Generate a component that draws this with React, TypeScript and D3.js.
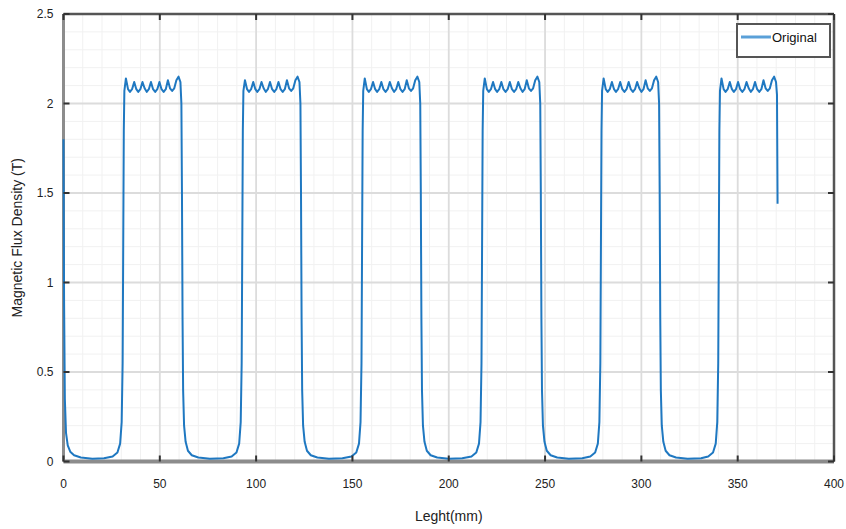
import React from "react";
import * as d3 from "d3";

type Pt = [number, number];

// Curve: [length (mm), flux density (T)]
const startDecay: Pt[] = [
  [0, 1.8], [0.3, 0.9], [0.7, 0.35], [1.3, 0.16], [2.2, 0.09], [3.5, 0.055], [5.5, 0.035], [9, 0.022], [15, 0.016], [21, 0.018],
];
const pulse1: Pt[] = [
  [25.5, 0.028], [28, 0.05], [29.4, 0.1], [30.2, 0.22], [30.7, 0.55], [31.0, 1.2], [31.3, 1.85], [31.6, 2.07],
  [32.4, 2.14], [33.5, 2.08], [34.5, 2.065], [35.6, 2.08], [36.7, 2.12], [37.8, 2.08], [38.8, 2.065], [39.9, 2.08], [41.0, 2.12], [42.1, 2.085],
  [43.2, 2.065], [44.3, 2.08], [45.4, 2.12], [46.5, 2.08], [47.6, 2.065], [48.7, 2.08], [49.8, 2.12], [50.9, 2.08], [52.0, 2.065], [53.1, 2.08],
  [54.2, 2.13], [55.3, 2.085], [56.4, 2.07], [57.5, 2.085], [58.6, 2.13], [59.7, 2.15], [60.7, 2.12], [61.2, 2.0],
  [61.5, 1.5], [61.8, 0.8], [62.1, 0.4], [62.6, 0.2], [63.4, 0.11], [64.6, 0.06], [66.6, 0.035], [70, 0.022], [76, 0.016], [83, 0.018],
];
const pulse2: Pt[] = [
  [87.3, 0.028], [89.8, 0.05], [91.2, 0.1], [92.0, 0.22], [92.5, 0.55], [92.8, 1.2], [93.1, 1.85], [93.4, 2.07],
  [94.2, 2.13], [95.3, 2.08], [96.3, 2.065], [97.4, 2.08], [98.5, 2.12], [99.6, 2.08], [100.6, 2.065], [101.7, 2.08], [102.8, 2.12], [103.9, 2.085],
  [105.0, 2.065], [106.1, 2.08], [107.2, 2.12], [108.3, 2.08], [109.4, 2.065], [110.5, 2.08], [111.6, 2.12], [112.7, 2.08], [113.8, 2.065], [114.9, 2.08],
  [116.0, 2.13], [117.1, 2.085], [118.2, 2.07], [119.3, 2.085], [120.4, 2.13], [121.5, 2.15], [122.5, 2.12], [123.0, 2.0],
  [123.3, 1.5], [123.6, 0.8], [123.9, 0.4], [124.4, 0.2], [125.2, 0.11], [126.4, 0.06], [128.4, 0.035], [131.8, 0.022], [137.8, 0.016], [144.8, 0.018],
];
const pulse3: Pt[] = [
  [149.5, 0.028], [152.0, 0.05], [153.4, 0.1], [154.2, 0.22], [154.7, 0.55], [155.0, 1.2], [155.3, 1.85], [155.6, 2.07],
  [156.4, 2.14], [157.5, 2.08], [158.5, 2.065], [159.6, 2.08], [160.7, 2.12], [161.8, 2.08], [162.8, 2.065], [163.9, 2.08], [165.0, 2.12], [166.1, 2.08],
  [167.2, 2.065], [168.3, 2.08], [169.4, 2.12], [170.5, 2.085], [171.6, 2.065], [172.7, 2.08], [173.8, 2.12], [174.9, 2.08], [176.0, 2.065], [177.1, 2.08],
  [178.2, 2.13], [179.3, 2.085], [180.4, 2.07], [181.5, 2.085], [182.6, 2.13], [183.7, 2.15], [184.7, 2.12], [185.2, 2.0],
  [185.5, 1.5], [185.8, 0.8], [186.1, 0.4], [186.6, 0.2], [187.4, 0.11], [188.6, 0.06], [190.6, 0.035], [194, 0.022], [200, 0.016], [207, 0.018],
];
const pulse4: Pt[] = [
  [211.8, 0.028], [214.3, 0.05], [215.7, 0.1], [216.5, 0.22], [217.0, 0.55], [217.3, 1.2], [217.6, 1.85], [217.9, 2.07],
  [218.7, 2.14], [219.8, 2.08], [220.8, 2.065], [221.9, 2.08], [223.0, 2.12], [224.1, 2.08], [225.1, 2.065], [226.2, 2.08], [227.3, 2.12], [228.4, 2.08],
  [229.5, 2.065], [230.6, 2.08], [231.7, 2.12], [232.8, 2.08], [233.9, 2.065], [235.0, 2.08], [236.1, 2.12], [237.2, 2.085], [238.3, 2.065], [239.4, 2.08],
  [240.5, 2.13], [241.6, 2.085], [242.7, 2.07], [243.8, 2.085], [244.9, 2.13], [246.0, 2.15], [247.0, 2.12], [247.5, 2.0],
  [247.8, 1.5], [248.1, 0.8], [248.4, 0.4], [248.9, 0.2], [249.7, 0.11], [250.9, 0.06], [252.9, 0.035], [256.3, 0.022], [262.3, 0.016], [269.3, 0.018],
];
const pulse5: Pt[] = [
  [273.5, 0.028], [276.0, 0.05], [277.4, 0.1], [278.2, 0.22], [278.7, 0.55], [279.0, 1.2], [279.3, 1.85], [279.6, 2.07],
  [280.4, 2.14], [281.5, 2.08], [282.5, 2.065], [283.6, 2.08], [284.7, 2.12], [285.8, 2.08], [286.8, 2.065], [287.9, 2.08], [289.0, 2.12], [290.1, 2.08],
  [291.2, 2.065], [292.3, 2.08], [293.4, 2.12], [294.5, 2.08], [295.6, 2.065], [296.7, 2.08], [297.8, 2.12], [298.9, 2.085], [300.0, 2.065], [301.1, 2.08],
  [302.2, 2.13], [303.3, 2.085], [304.4, 2.07], [305.5, 2.085], [306.6, 2.13], [307.7, 2.15], [308.7, 2.12], [309.2, 2.0],
  [309.5, 1.5], [309.8, 0.8], [310.1, 0.4], [310.6, 0.2], [311.4, 0.11], [312.6, 0.06], [314.6, 0.035], [318, 0.022], [324, 0.016], [331, 0.018],
];
const pulse6: Pt[] = [
  [334.7, 0.028], [337.2, 0.05], [338.6, 0.1], [339.4, 0.22], [339.9, 0.55], [340.2, 1.2], [340.5, 1.85], [340.8, 2.07],
  [341.6, 2.14], [342.7, 2.08], [343.7, 2.065], [344.8, 2.08], [345.9, 2.12], [347.0, 2.08], [348.0, 2.065], [349.1, 2.08], [350.2, 2.12], [351.3, 2.08],
  [352.4, 2.065], [353.5, 2.08], [354.6, 2.12], [355.7, 2.085], [356.8, 2.065], [357.9, 2.08], [359.0, 2.12], [360.1, 2.08], [361.2, 2.065], [362.3, 2.08],
  [363.4, 2.13], [364.5, 2.085], [365.6, 2.07], [366.7, 2.085], [367.8, 2.13], [368.9, 2.15], [369.9, 2.12], [370.4, 2.05], [370.7, 1.44],
];

const xTicks = [0, 50, 100, 150, 200, 250, 300, 350, 400];
const yTicks = [0, 0.5, 1, 1.5, 2, 2.5];
const xMinor = d3.range(0, 401, 10);
const yMinor = d3.range(0, 2.51, 0.1);
const seriesName = "Original";
const xTitle = "Leght(mm)";
const yTitle = "Magnetic Flux Density (T)";

const W = 846, H = 529;
const M = { left: 63.5, right: 12, top: 14, bottom: 67.5 };

export default function App() {
  const data: Pt[] = [...startDecay, ...pulse1, ...pulse2, ...pulse3, ...pulse4, ...pulse5, ...pulse6];
  const x = d3.scaleLinear().domain([0, 400]).range([M.left, W - M.right]);
  const y = d3.scaleLinear().domain([0, 2.5]).range([H - M.bottom, M.top]);
  const line = d3.line<Pt>().x(d => x(d[0])).y(d => y(d[1]));
  const x0 = x(0), x1 = x(400), y0 = y(0), y1 = y(2.5);
  const font = "'Liberation Sans', Arial, sans-serif";
  return (
    <svg width={W} height={H} style={{ position: "absolute", left: 0, top: 0, background: "#fff" }} fontFamily={font}>
      <rect x={0} y={0} width={W} height={H} fill="#fff" />
      {/* minor grid */}
      {xMinor.map(v => (
        <line key={"xm" + v} x1={x(v)} x2={x(v)} y1={y1} y2={y0} stroke="#f1f1f1" strokeWidth={1} />
      ))}
      {yMinor.map(v => (
        <line key={"ym" + v} x1={x0} x2={x1} y1={y(v)} y2={y(v)} stroke="#f1f1f1" strokeWidth={1} />
      ))}
      {/* major grid */}
      {xTicks.map(v => (
        <line key={"xg" + v} x1={x(v)} x2={x(v)} y1={y1} y2={y0} stroke="#dcdcdc" strokeWidth={1.8} />
      ))}
      {yTicks.map(v => (
        <line key={"yg" + v} x1={x0} x2={x1} y1={y(v)} y2={y(v)} stroke="#dcdcdc" strokeWidth={1.8} />
      ))}
      {/* frame (left / bottom under the data) */}
      <line x1={x0} x2={x1} y1={y0} y2={y0} stroke="#8c8c8c" strokeWidth={4} />
      <line x1={x0} x2={x0} y1={y1} y2={y0} stroke="#8c8c8c" strokeWidth={3} />
      {/* data */}
      <path d={line(data) || ""} fill="none" stroke="#1f78c1" strokeWidth={2} strokeLinejoin="round" />
      <line x1={x0} x2={x1} y1={y1} y2={y1} stroke="#555" strokeWidth={2.5} />
      <line x1={x1} x2={x1} y1={y1} y2={y0} stroke="#555" strokeWidth={2.5} />
      {/* ticks */}
      {xTicks.map(v => (
        <g key={"xt" + v}>
          <line x1={x(v)} x2={x(v)} y1={y0} y2={y0 - 6} stroke="#333" strokeWidth={2} />
          <line x1={x(v)} x2={x(v)} y1={y1} y2={y1 + 6} stroke="#333" strokeWidth={2} />
          <text x={x(v)} y={y0 + 26} textAnchor="middle" fontSize={12} fill="#222">{v}</text>
        </g>
      ))}
      {yTicks.map(v => (
        <g key={"yt" + v}>
          <line x1={x0} x2={x0 + 6} y1={y(v)} y2={y(v)} stroke="#333" strokeWidth={2} />
          <line x1={x1} x2={x1 - 6} y1={y(v)} y2={y(v)} stroke="#333" strokeWidth={2} />
          <text x={x0 - 10} y={y(v) + 4} textAnchor="end" fontSize={12} fill="#222">{v}</text>
        </g>
      ))}
      {/* axis titles */}
      <text x={(x0 + x1) / 2} y={H - 8} textAnchor="middle" fontSize={14} fill="#222">{xTitle}</text>
      <text transform={`translate(22,${(y0 + y1) / 2}) rotate(-90)`} textAnchor="middle" fontSize={14} fill="#222">{yTitle}</text>
      {/* legend */}
      <rect x={737} y={24} width={93} height={33} fill="#fff" stroke="#555" strokeWidth={2} />
      <line x1={741} x2={771} y1={37} y2={37} stroke="#5aa0d8" strokeWidth={3} />
      <text x={772} y={42} fontSize={13} fill="#111">{seriesName}</text>
    </svg>
  );
}
